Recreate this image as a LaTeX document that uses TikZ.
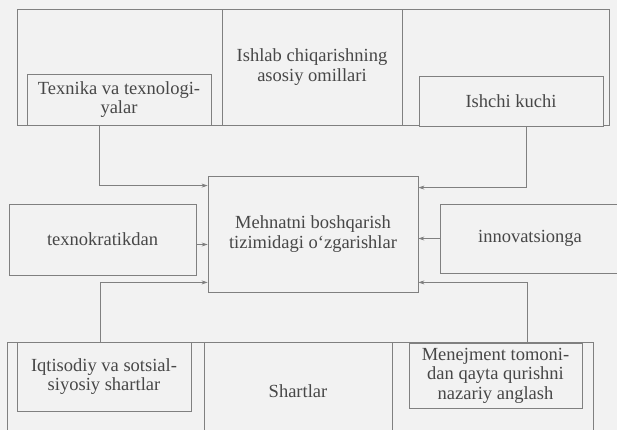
\documentclass[tikz,border=0pt]{standalone}
\usepackage{fontspec}
\setmainfont{Liberation Serif}
\usepackage{xcolor}
\usetikzlibrary{positioning,arrows.meta,calc}
\definecolor{scanpaper}{gray}{0.95}
\definecolor{scanline}{gray}{0.50}
\definecolor{scantext}{gray}{0.28}

\begin{document}
\begin{tikzpicture}[
    x=1pt, y=-1pt,
    box/.style={rectangle, draw=scanline, line width=0.8pt, inner sep=0pt, align=center,
                text=scantext, font=\fontsize{18.5}{19.5}\selectfont},
    frame/.style={rectangle, draw=scanline, line width=0.8pt, inner sep=0pt},
    arrow/.style={-{Stealth[length=6pt,width=4pt,fill=scantext]}, draw=scanline, line width=0.8pt}
]
    % Paper
    \fill[scanpaper] (0,0) rectangle (617,430);
    \useasboundingbox (0,0) rectangle (617,430);
    \clip (0,0) rectangle (617,430);

    % Top: factors of production
    \node[frame, minimum width=592pt, minimum height=116pt] (topframe) at (313,67) {};
    \node[box, minimum width=180pt, minimum height=116pt] (omillar) at (312,67) {Ishlab chiqarishning\\asosiy omillari};
    \node[box, fill=scanpaper, minimum width=184pt, minimum height=51pt] (texnika) at (119,99.5) {Texnika va texnologi-\\yalar};
    \node[box, fill=scanpaper, minimum width=184pt, minimum height=50pt] (ishchi) at (511,101) {Ishchi kuchi};

    % Middle: changes in labour management
    \node[box, minimum width=210pt, minimum height=116pt] (mehnat) at (313,234) {Mehnatni boshqarish\\tizimidagi o‘zgarishlar};
    \node[box, minimum width=187pt, minimum height=71pt] (texno) at (102.5,239.5) {texnokratikdan};
    \node[box, minimum width=180pt, minimum height=69pt] (innov) at (530,238.5) {innovatsionga};

    % Bottom: conditions
    \node[frame, minimum width=586pt, minimum height=98pt] (botframe) at (300,391) {};
    \node[box, minimum width=188pt, minimum height=98pt] (shartlar) at (298,391) {Shartlar};
    \node[box, minimum width=174pt, minimum height=69pt] (iqtisod) at (104,376.5) {Iqtisodiy va sotsial-\\siyosiy shartlar};
    \node[box, minimum width=173pt, minimum height=65pt] (menej) at (495.5,375.5) {Menejment tomoni-\\dan qayta qurishni\\nazariy anglash};

    % Arrows into the centre
    \draw[arrow] ([xshift=-20pt]texnika.south) |- ([yshift=-10pt]mehnat.north west);
    \draw[arrow] ([xshift=15pt]ishchi.south) |- ([yshift=-12pt]mehnat.north east);
    \draw[arrow] ([yshift=-5pt]texno.east) -- ([yshift=-5pt]texno.east -| mehnat.west);
    \draw[arrow] (innov.west) -- (innov.west -| mehnat.east);
    \draw[arrow] ([xshift=-4pt]iqtisod.north) |- ([yshift=10pt]mehnat.south west);
    \draw[arrow] ([xshift=31.5pt]menej.north) |- ([yshift=10pt]mehnat.south east);

\end{tikzpicture}
\end{document}
